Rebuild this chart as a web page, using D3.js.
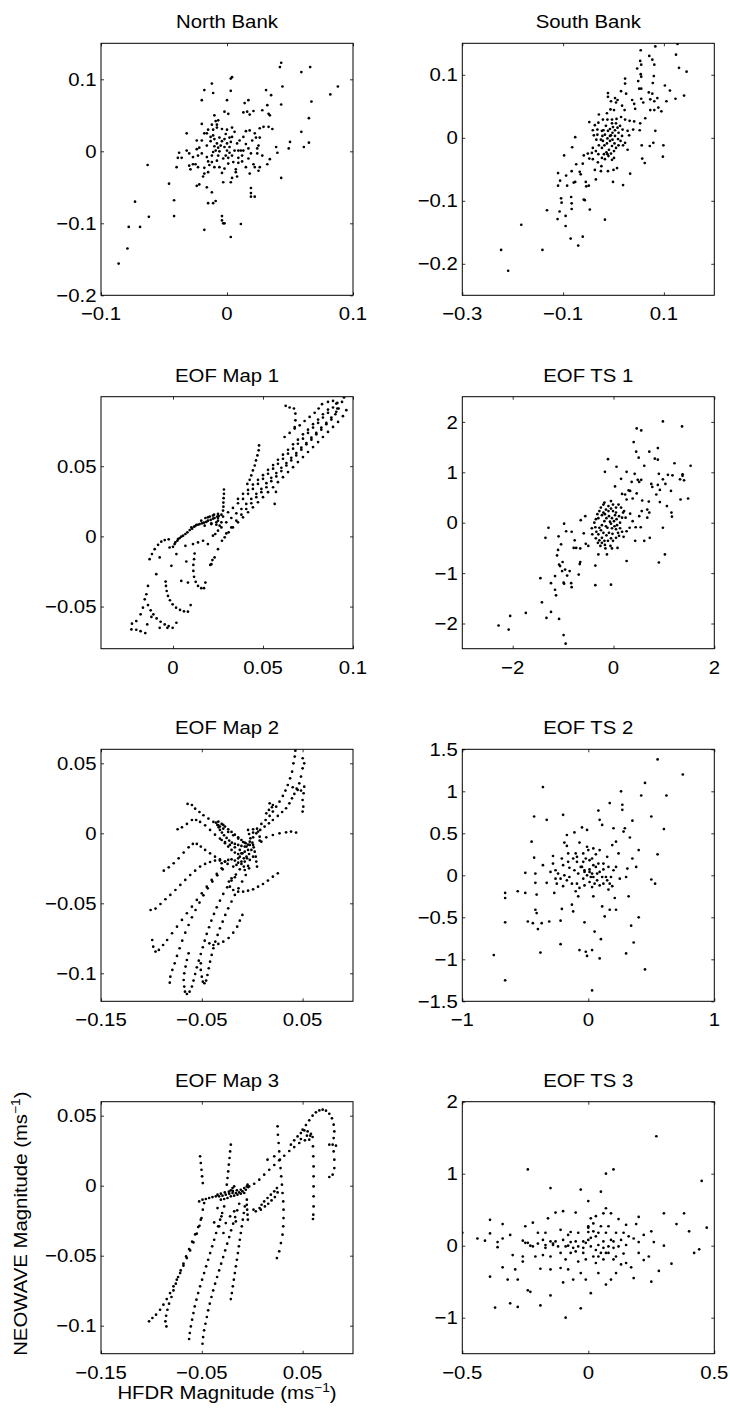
<!DOCTYPE html>
<html><head><meta charset="utf-8">
<script src="https://cdn.jsdelivr.net/npm/d3@7"></script>
<style>body{margin:0;background:#fff}svg{display:block}text{font-family:"Liberation Sans",Arial,Helvetica,sans-serif;fill:#000}</style>
</head><body><svg id="c" width="730" height="1413"></svg>
<script>
// ---------- DATA ----------
const titles = ["North Bank","South Bank","EOF Map 1","EOF TS 1","EOF Map 2","EOF TS 2","EOF Map 3","EOF TS 3"];

const northBank = [[-0.086,-0.156],[-0.079,-0.135],[-0.078,-0.105],[-0.069,-0.105],[-0.073,-0.070],[-0.062,-0.091],[-0.063,-0.019],[-0.046,-0.045],[-0.042,-0.068],[-0.042,-0.090],[-0.040,-0.022],[-0.039,-0.009],[-0.038,-0.002],[-0.036,-0.009],[-0.032,0.025],[-0.032,0.001],[-0.030,-0.020],[-0.029,-0.025],[-0.027,-0.018],[-0.025,-0.018],[-0.024,0.003],[-0.024,0.015],[-0.024,-0.048],[-0.022,-0.046],[-0.020,0.038],[-0.020,0.071],[-0.018,0.085],[-0.012,0.094],[-0.011,0.081],[-0.012,0.037],[-0.019,-0.035],[-0.018,-0.031],[-0.016,-0.050],[-0.012,-0.057],[-0.015,-0.072],[-0.011,-0.072],[-0.009,-0.069],[-0.018,-0.109],[-0.004,-0.090],[-0.004,-0.096],[-0.003,-0.100],[-0.002,-0.100],[0.003,-0.119],[0.011,-0.101],[0.003,0.101],[0.004,0.103],[0.003,0.084],[0.000,0.071],[-0.002,0.055],[0.001,0.052],[-0.010,0.050],[-0.009,0.042],[-0.008,0.037],[0.014,0.067],[0.017,0.071],[0.016,0.055],[0.013,0.054],[0.018,0.051],[0.021,0.056],[0.028,0.057],[0.031,0.085],[0.035,0.078],[0.032,0.064],[0.033,0.052],[0.034,0.050],[0.043,0.123],[0.042,0.117],[0.044,0.090],[0.043,0.065],[0.059,0.110],[0.066,0.117],[0.082,0.079],[0.088,0.090],[0.067,0.069],[0.065,0.046],[0.059,0.027],[0.065,0.012],[0.061,0.006],[0.050,0.013],[0.049,0.004],[0.039,0.006],[0.040,-0.002],[0.043,-0.037],[0.019,-0.051],[0.019,-0.058],[0.019,-0.063],[0.022,-0.063],[0.026,0.032],[0.029,0.034],[0.033,0.034],[0.036,0.031],[0.018,0.029],[0.015,0.028],[0.023,0.019],[0.026,0.019],[0.025,0.008],[0.024,0.004],[0.024,-0.003],[0.028,-0.006],[0.034,-0.011],[0.032,-0.018],[0.026,-0.022],[0.025,-0.027],[0.022,-0.022],[0.021,-0.018],[0.018,-0.031],[0.015,-0.022],[0.012,-0.014],[0.009,-0.016],[0.007,-0.025],[0.008,-0.035],[0.004,-0.037],[0.003,-0.043],[-0.003,-0.043],[-0.004,-0.030],[-0.002,-0.024],[-0.006,-0.022],[-0.008,-0.013],[-0.012,-0.015],[-0.015,-0.014],[-0.018,-0.023],[-0.015,-0.029],[-0.020,0.015],[-0.018,0.025],[-0.016,0.025],[-0.015,0.030],[-0.011,0.030],[-0.008,0.033],[-0.004,0.031],[0.000,0.030],[0.004,0.033],[0.006,0.027],[0.002,0.019],[-0.002,0.017],[-0.006,0.019],[-0.010,0.017],[-0.013,0.014],[-0.016,0.008],[-0.022,0.005],[-0.023,-0.006],[-0.020,-0.003],[-0.016,-0.008],[-0.012,-0.006],[-0.009,0.001],[-0.010,0.007],[-0.007,0.005],[-0.005,0.008],[-0.002,0.006],[0.000,0.001],[0.002,-0.002],[-0.001,-0.006],[-0.003,-0.010],[-0.007,-0.006],[0.001,-0.009],[0.004,-0.006],[0.006,0.001],[0.009,0.001],[0.011,0.001],[0.013,0.001],[0.008,0.011],[0.010,0.015],[0.013,0.020],[0.015,0.010],[0.017,0.004],[0.012,-0.006],[0.009,-0.009],[0.005,-0.015],[0.001,-0.017],[-0.010,-0.022],[-0.014,-0.019],[-0.008,0.011],[-0.004,0.014],[0.003,0.013],[-0.001,0.024],[-0.011,0.022],[-0.023,-0.022],[-0.027,-0.008],[-0.030,-0.003],[0.002,0.006],[-0.006,0.000],[-0.011,-0.001],[0.000,0.011],[0.017,-0.010],[0.019,-0.003],[0.020,0.015],[0.022,0.025],[0.004,0.020],[-0.007,0.043],[-0.013,0.020],[0.007,-0.029]];

const southBank = [[-0.223,-0.178],[-0.209,-0.211],[-0.183,-0.138],[-0.141,-0.178],[-0.132,-0.115],[-0.111,-0.129],[-0.107,-0.117],[-0.095,-0.140],[-0.085,-0.160],[-0.070,-0.171],[-0.061,-0.157],[-0.047,-0.114],[-0.017,-0.130],[-0.098,-0.028],[-0.082,-0.015],[-0.076,0.001],[-0.110,-0.056],[-0.110,-0.076],[-0.106,-0.068],[-0.094,-0.060],[-0.092,-0.076],[-0.104,-0.096],[-0.103,-0.103],[-0.095,-0.124],[-0.084,-0.094],[-0.083,-0.104],[-0.083,-0.113],[-0.079,-0.071],[-0.076,-0.070],[-0.083,-0.053],[-0.074,-0.042],[-0.067,-0.054],[-0.065,-0.058],[-0.061,-0.041],[-0.059,-0.098],[-0.057,-0.099],[-0.055,-0.070],[-0.054,-0.077],[-0.049,-0.076],[-0.059,-0.028],[-0.051,-0.025],[-0.048,-0.033],[-0.043,-0.024],[-0.041,-0.034],[-0.037,-0.051],[-0.035,-0.066],[-0.031,-0.039],[-0.025,-0.053],[-0.024,-0.045],[-0.011,-0.053],[-0.001,-0.070],[0.000,-0.051],[0.007,-0.048],[0.019,-0.075],[0.033,-0.057],[0.057,-0.033],[0.062,-0.040],[0.056,-0.012],[0.072,-0.013],[0.079,-0.008],[0.099,-0.012],[0.098,-0.030],[0.083,0.011],[0.127,0.149],[0.083,0.145],[0.054,0.139],[0.071,0.130],[0.077,0.124],[0.053,0.122],[0.055,0.116],[0.047,0.110],[0.081,0.116],[0.124,0.132],[0.130,0.111],[0.145,0.105],[0.054,0.101],[0.055,0.097],[0.049,0.090],[0.078,0.087],[0.080,0.098],[0.051,0.078],[0.055,0.078],[0.102,0.083],[0.112,0.075],[0.070,0.072],[0.077,0.070],[0.087,0.063],[0.073,0.061],[0.081,0.058],[0.105,0.058],[0.123,0.062],[0.140,0.067],[0.089,0.048],[0.081,0.044],[0.095,0.042],[0.073,0.044],[0.055,0.062],[0.059,0.056],[0.043,0.046],[0.041,0.054],[0.037,0.060],[0.025,0.070],[0.023,0.086],[0.015,0.074],[0.023,0.094],[0.003,0.063],[0.008,0.060],[-0.011,0.071],[-0.011,0.065],[-0.005,0.058],[0.005,0.056],[0.017,0.051],[0.022,0.044],[0.001,0.044],[-0.006,0.045],[-0.013,0.039],[-0.029,0.037],[-0.048,0.025],[-0.041,0.012],[-0.032,0.013],[-0.020,0.012],[-0.012,0.029],[-0.003,0.029],[0.006,0.030],[0.015,0.033],[0.023,0.029],[0.032,0.027],[0.041,0.026],[0.053,0.023],[0.052,0.012],[0.063,0.031],[0.039,0.013],[0.031,0.004],[0.028,0.011],[0.018,0.013],[0.023,-0.008],[0.028,-0.019],[0.019,-0.012],[-0.022,0.003],[-0.017,0.005],[-0.012,-0.001],[-0.007,0.003],[-0.002,0.008],[0.003,0.012],[0.008,0.016],[-0.001,0.017],[-0.007,0.014],[-0.015,0.019],[-0.021,-0.005],[-0.025,-0.003],[-0.029,-0.012],[-0.023,-0.016],[-0.018,-0.012],[-0.013,-0.009],[-0.007,-0.005],[-0.002,-0.003],[0.003,0.003],[0.009,-0.002],[0.002,-0.009],[-0.003,-0.013],[-0.009,-0.019],[-0.014,-0.023],[-0.019,-0.026],[-0.023,-0.032],[-0.017,-0.034],[-0.010,-0.029],[-0.005,-0.025],[0.001,-0.021],[0.005,-0.016],[0.010,-0.012],[0.014,-0.005],[0.017,0.003],[0.010,0.008],[0.013,0.019],[0.005,0.023],[-0.003,0.023],[-0.012,-0.026],[-0.003,-0.035],[0.001,-0.032],[-0.030,-0.026],[-0.035,-0.021],[-0.041,-0.016],[-0.034,-0.003],[-0.039,0.004],[-0.032,0.005],[-0.023,0.011],[-0.011,0.011],[-0.005,0.004],[-0.030,0.024],[-0.021,0.029],[-0.037,0.020]];

const eofMap1 = [[0.0213,-0.0198],[0.0231,-0.0150],[0.0250,-0.0091],[0.0272,-0.0031],[0.0296,0.0021],[0.0324,0.0064],[0.0352,0.0112],[0.0380,0.0155],[0.0407,0.0195],[0.0435,0.0236],[0.0463,0.0279],[0.0491,0.0315],[0.0519,0.0350],[0.0546,0.0393],[0.0574,0.0427],[0.0602,0.0465],[0.0630,0.0505],[0.0657,0.0541],[0.0685,0.0577],[0.0713,0.0617],[0.0741,0.0656],[0.0769,0.0689],[0.0796,0.0727],[0.0824,0.0760],[0.0852,0.0799],[0.0880,0.0832],[0.0902,0.0870],[0.0920,0.0911],[0.0939,0.0958],[0.0950,0.0990],
[0.0269,0.0064],[0.0296,0.0100],[0.0324,0.0131],[0.0352,0.0164],[0.0380,0.0195],[0.0407,0.0231],[0.0435,0.0267],[0.0463,0.0303],[0.0491,0.0338],[0.0519,0.0379],[0.0546,0.0417],[0.0574,0.0451],[0.0602,0.0489],[0.0630,0.0522],[0.0657,0.0560],[0.0685,0.0594],[0.0713,0.0632],[0.0741,0.0665],[0.0769,0.0703],[0.0796,0.0737],[0.0824,0.0775],[0.0852,0.0808],[0.0880,0.0846],[0.0907,0.0887],
[0.0250,0.0112],[0.0278,0.0141],[0.0306,0.0172],[0.0333,0.0203],[0.0361,0.0236],[0.0389,0.0267],[0.0417,0.0303],[0.0444,0.0338],[0.0472,0.0374],[0.0500,0.0410],[0.0528,0.0446],[0.0556,0.0482],[0.0583,0.0517],[0.0611,0.0553],[0.0639,0.0589],[0.0667,0.0625],[0.0694,0.0660],[0.0722,0.0696],[0.0750,0.0737],[0.0778,0.0775],[0.0806,0.0808],[0.0833,0.0846],[0.0861,0.0880],[0.0889,0.0918],[0.0913,0.0951],
[0.0361,0.0267],[0.0389,0.0303],[0.0417,0.0331],[0.0444,0.0369],[0.0472,0.0403],[0.0500,0.0436],[0.0528,0.0474],[0.0556,0.0508],[0.0583,0.0546],[0.0611,0.0582],[0.0639,0.0617],[0.0667,0.0656],[0.0694,0.0689],[0.0722,0.0727],[0.0750,0.0760],[0.0778,0.0799],[0.0806,0.0832],[0.0833,0.0870],[0.0861,0.0903],
[0.0287,-0.0007],[0.0309,0.0029],[0.0333,0.0064],[0.0361,0.0100],[0.0389,0.0136],[0.0417,0.0172],[0.0444,0.0207],[0.0472,0.0243],[0.0500,0.0279],[0.0528,0.0315],[0.0556,0.0350],[0.0583,0.0386],[0.0611,0.0422],[0.0639,0.0458],[0.0667,0.0493],[0.0694,0.0529],[0.0722,0.0565],[0.0750,0.0601],[0.0778,0.0636],[0.0806,0.0672],[0.0833,0.0708],[0.0861,0.0744],[0.0889,0.0780],[0.0917,0.0815],[0.0944,0.0856],[0.0963,0.0899],
[0.0620,0.0708],[0.0648,0.0737],[0.0676,0.0768],[0.0704,0.0791],[0.0731,0.0822],[0.0759,0.0851],[0.0787,0.0880],[0.0809,0.0911],[0.0828,0.0942],[0.0861,0.0958],[0.0889,0.0965],[0.0907,0.0946],[0.0913,0.0911],
[0.0626,0.0930],[0.0648,0.0918],[0.0672,0.0911],[0.0680,0.0875],[0.0680,0.0827],[0.0676,0.0779],
[0.0478,0.0648],[0.0476,0.0613],[0.0469,0.0577],[0.0461,0.0541],[0.0454,0.0505],[0.0444,0.0470],[0.0435,0.0434],[0.0426,0.0403],[0.0413,0.0374],
[0.0283,0.0334],[0.0283,0.0303],[0.0281,0.0272],[0.0280,0.0241],[0.0280,0.0212],[0.0278,0.0184],
[0.0572,0.0317],[0.0565,0.0231],
[0.0000,-0.0074],[0.0013,-0.0043],[0.0028,-0.0019],[0.0046,-0.0002],[0.0069,0.0017],[0.0093,0.0045],[0.0117,0.0069],[0.0139,0.0083],[0.0161,0.0093],[0.0185,0.0103],[0.0209,0.0117],[0.0231,0.0131],[0.0254,0.0145],[0.0102,0.0064],[0.0130,0.0083],[0.0157,0.0112],[0.0180,0.0131],[0.0204,0.0141],[0.0228,0.0155],[0.0250,0.0160],[0.0176,0.0076],[0.0213,0.0088],[0.0241,0.0100],
[0.0009,-0.0055],[0.0024,-0.0031],[0.0037,-0.0012],[0.0056,0.0005],[0.0080,0.0029],[0.0106,0.0055],[0.0124,0.0074],[0.0148,0.0088],[0.0172,0.0098],[0.0194,0.0112],[0.0222,0.0126],[0.0246,0.0141],[0.0269,0.0155],
[0.0194,0.0136],[0.0222,0.0148],[0.0250,0.0131],[0.0269,0.0100],[0.0241,0.0083],[0.0213,0.0093],
[-0.0130,-0.0162],[-0.0117,-0.0126],[-0.0102,-0.0091],[-0.0083,-0.0060],[-0.0065,-0.0038],[-0.0046,-0.0026],[-0.0024,-0.0021],
[-0.0139,-0.0353],[-0.0148,-0.0412],[-0.0157,-0.0448],[-0.0167,-0.0508],[-0.0180,-0.0555],[-0.0204,-0.0603],[-0.0228,-0.0622],[-0.0231,-0.0663],[-0.0204,-0.0665],[-0.0180,-0.0675],[-0.0154,-0.0689],
[-0.0041,-0.0322],[-0.0039,-0.0353],[-0.0035,-0.0389],[-0.0028,-0.0424],[-0.0017,-0.0455],[-0.0002,-0.0484],[0.0017,-0.0508],[0.0039,-0.0524],[0.0061,-0.0534],[0.0083,-0.0536],[0.0098,-0.0489],
[-0.0139,-0.0489],[-0.0124,-0.0527],[-0.0109,-0.0555],[-0.0091,-0.0584],[-0.0069,-0.0608],[-0.0046,-0.0627],[-0.0024,-0.0639],[-0.0002,-0.0651],[0.0019,-0.0615],
[0.0120,-0.0122],[0.0117,-0.0162],[0.0113,-0.0203],[0.0113,-0.0246],[0.0117,-0.0288],[0.0126,-0.0324],[0.0139,-0.0353],[0.0157,-0.0369],[0.0172,-0.0369],[0.0180,-0.0329],
[0.0207,-0.0203],[0.0219,-0.0169],
[-0.0093,-0.0269],[-0.0074,-0.0150],[-0.0019,-0.0079],[-0.0009,-0.0210],[0.0019,-0.0126],[0.0046,-0.0317],[0.0074,-0.0179],[0.0083,-0.0329],[0.0111,-0.0055],[0.0139,-0.0043],[0.0167,-0.0031],[0.0194,-0.0055],[0.0222,0.0005],[0.0069,-0.0067],[-0.0031,-0.0651],[-0.0074,-0.0651],[-0.0120,-0.0574],[-0.0143,-0.0627],[0.0235,0.0017],[0.0250,0.0041],[0.0259,0.0076]];

const eofTS1 = [[-2.28,-2.04],[-2.08,-2.12],[-2.05,-1.85],[-1.74,-1.79],[-1.45,-1.10],[-1.42,-1.58],[-1.33,-1.89],[-1.24,-1.77],[-1.24,-1.20],[-1.16,-1.06],[-1.16,-1.33],[-1.14,-1.44],[-1.08,-1.91],[-0.99,-2.23],[-0.95,-2.40],[-1.35,-0.30],[-1.29,-0.10],[-1.09,-0.27],[-0.98,-0.02],[-1.10,-0.54],[-1.12,-0.65],[-1.04,-0.43],[-1.08,-0.83],[-1.06,-0.86],[-1.01,-0.78],[-1.02,-0.96],[-0.92,-1.05],[-0.96,-0.93],[-0.87,-0.96],[-0.99,-1.19],[-0.98,-1.21],[-0.84,-1.20],[-0.83,-1.28],[-0.94,-0.17],[-0.83,-0.18],[-0.77,-0.35],[-0.79,-0.50],[-0.74,-0.50],[-0.69,-1.03],[-0.65,0.05],[-0.56,0.13],[-0.66,-0.51],[-0.59,-0.21],[-0.55,-0.42],[-0.50,-0.46],[-0.66,-0.78],[-0.67,-0.82],[-0.36,-1.24],[-0.36,-0.85],[-0.05,-1.23],[0.26,-0.76],[0.43,-0.36],[0.54,-0.09],[0.44,-0.09],[0.61,-0.36],[0.72,-0.30],[0.67,0.10],[0.90,-0.79],[1.02,-0.63],[0.98,-0.10],[1.15,0.20],[1.16,0.12],[1.33,0.46],[1.48,0.48],[1.37,0.96],[1.40,0.84],[1.53,1.13],[1.36,1.91],[0.98,2.01],[0.46,1.87],[0.55,1.83],[0.40,1.60],[0.45,1.41],[0.50,1.29],[0.71,1.41],[0.88,1.48],[0.82,1.27],[0.88,1.25],[0.61,1.13],[1.21,1.18],[0.90,0.97],[1.08,0.95],[1.17,0.94],[0.98,0.86],[1.03,0.77],[0.75,0.77],[0.77,0.71],[0.88,0.75],[0.92,0.65],[0.85,0.56],[0.92,0.41],[1.06,0.33],[1.14,0.63],[1.32,0.86],[1.37,0.93],[0.70,0.42],[0.55,0.85],[0.48,0.85],[0.51,0.81],[0.42,0.97],[0.26,1.01],[0.15,0.87],[0.03,0.72],[-0.11,1.26],[0.06,1.11],[-0.17,1.01],[0.36,0.81],[0.33,0.63],[0.30,0.64],[0.23,0.56],[0.17,0.57],[0.38,0.48],[0.46,0.58],[0.26,0.46],[0.57,0.44],[0.71,0.20],[0.67,0.26],[0.51,0.13],[0.56,0.23],[0.33,0.18],[0.21,0.23],[0.24,0.10],[0.38,0.03],[0.32,-0.10],[0.26,-0.17],[0.20,-0.28],[0.08,-0.50],[-0.03,-0.51],[-0.13,-0.63],[-0.26,-0.46],[-0.30,-0.63],[-0.16,-0.51],[-0.06,-0.46],[-0.38,0.00],[-0.35,0.07],[-0.32,0.17],[-0.28,0.23],[-0.25,0.30],[-0.20,0.36],[-0.15,0.26],[-0.10,0.33],[-0.05,0.43],[-0.01,0.36],[0.05,0.30],[0.10,0.36],[0.15,0.30],[0.19,0.20],[0.17,0.10],[0.11,0.13],[0.06,0.07],[0.01,0.03],[-0.03,0.09],[-0.09,0.13],[-0.14,0.09],[-0.18,0.03],[-0.23,-0.05],[-0.28,-0.10],[-0.34,-0.18],[-0.36,-0.09],[-0.30,-0.23],[-0.23,-0.30],[-0.18,-0.36],[-0.14,-0.25],[-0.09,-0.20],[-0.03,-0.11],[0.02,-0.07],[0.07,-0.05],[0.13,-0.11],[0.17,-0.18],[0.11,-0.26],[0.05,-0.30],[-0.01,-0.36],[-0.05,-0.31],[-0.11,-0.36],[-0.17,-0.44],[-0.23,-0.40],[-0.28,-0.35],[-0.20,-0.20],[-0.12,-0.10],[-0.05,-0.02],[-0.01,0.23],[-0.10,0.23],[-0.17,0.17],[-0.23,0.15],[-0.30,0.09],[0.05,-0.13],[0.09,-0.20],[-0.02,-0.22],[-0.31,-0.40],[-0.42,-0.23],[-0.43,-0.11],[-0.15,-0.07],[-0.07,0.02],[0.03,0.15],[0.13,0.00],[0.05,0.20],[-0.05,0.28],[-0.20,0.20],[-0.25,-0.15],[-0.35,-0.31],[-0.18,0.40]];

const eofMap2 = [[0.0501,0.0536],[0.0516,0.0500],[0.0500,0.0464],[0.0484,0.0405],[0.0467,0.0357],[0.0451,0.0310],[0.0418,0.0281],[0.0395,0.0250],[0.0369,0.0214],[0.0336,0.0179],[0.0297,0.0152],[0.0254,0.0124],[0.0205,0.0095],[0.0166,0.0071],[0.0123,0.0048],[0.0080,0.0024],[0.0041,0.0000],[0.0009,-0.0029],[-0.0024,-0.0060],[-0.0057,-0.0095],
[0.0428,0.0590],[0.0422,0.0548],[0.0409,0.0500],[0.0396,0.0440],[0.0376,0.0393],[0.0353,0.0345],[0.0330,0.0305],[0.0304,0.0267],[0.0271,0.0226],[0.0238,0.0190],[0.0205,0.0155],[0.0173,0.0124],[0.0133,0.0095],[0.0091,0.0067],[0.0048,0.0033],[0.0009,0.0005],
[0.0516,0.0333],[0.0510,0.0286],[0.0500,0.0238],[0.0507,0.0190],[0.0500,0.0155],[0.0402,0.0329],[0.0441,0.0319],[0.0484,0.0305],
[0.0173,0.0214],[0.0196,0.0186],[0.0166,0.0167],[0.0140,0.0143],[0.0205,0.0202],
[0.0009,-0.0083],[0.0074,-0.0052],[0.0140,-0.0029],[0.0205,-0.0012],[0.0271,0.0000],[0.0336,0.0007],[0.0385,0.0012],[0.0435,0.0005],
[0.0254,-0.0286],[0.0205,-0.0310],[0.0156,-0.0338],[0.0107,-0.0362],[0.0058,-0.0381],[0.0009,-0.0400],[-0.0041,-0.0410],[-0.0090,-0.0417],[-0.0139,-0.0417],[-0.0188,-0.0405],[-0.0221,-0.0381],[-0.0231,-0.0345],[-0.0205,-0.0321],[-0.0172,-0.0314],
[-0.0097,-0.0583],[-0.0123,-0.0624],[-0.0149,-0.0667],[-0.0188,-0.0710],[-0.0234,-0.0748],[-0.0287,-0.0774],[-0.0336,-0.0790],[-0.0385,-0.0798],[-0.0425,-0.0786],
[-0.0641,0.0210],[-0.0598,0.0202],[-0.0566,0.0176],[-0.0523,0.0152],[-0.0484,0.0129],[-0.0434,0.0105],[-0.0385,0.0081],[-0.0336,0.0057],[-0.0287,0.0033],[-0.0238,0.0010],[-0.0188,-0.0014],[-0.0139,-0.0038],[-0.0090,-0.0062],
[-0.0740,0.0029],[-0.0697,0.0043],[-0.0648,0.0067],[-0.0598,0.0095],[-0.0556,0.0095],[-0.0517,0.0081],[-0.0467,0.0057],[-0.0418,0.0024],[-0.0369,-0.0010],[-0.0320,-0.0038],[-0.0270,-0.0062],[-0.0221,-0.0083],[-0.0172,-0.0100],[-0.0123,-0.0119],
[-0.0877,-0.0267],[-0.0828,-0.0243],[-0.0779,-0.0214],[-0.0730,-0.0179],[-0.0680,-0.0138],[-0.0631,-0.0100],[-0.0589,-0.0076],[-0.0549,-0.0076],[-0.0510,-0.0095],[-0.0467,-0.0119],[-0.0418,-0.0143],[-0.0369,-0.0167],[-0.0320,-0.0186],[-0.0270,-0.0202],
[-0.1008,-0.0548],[-0.0959,-0.0538],[-0.0910,-0.0505],[-0.0861,-0.0471],[-0.0812,-0.0440],[-0.0762,-0.0405],[-0.0713,-0.0369],[-0.0664,-0.0333],[-0.0615,-0.0298],[-0.0566,-0.0267],[-0.0517,-0.0238],[-0.0467,-0.0219],[-0.0418,-0.0205],[-0.0369,-0.0195],[-0.0320,-0.0195],
[-0.0992,-0.0762],[-0.0982,-0.0810],[-0.0959,-0.0845],[-0.0926,-0.0833],[-0.0884,-0.0798],[-0.0844,-0.0762],[-0.0795,-0.0714],[-0.0746,-0.0667],[-0.0697,-0.0619],[-0.0648,-0.0571],[-0.0598,-0.0524],[-0.0549,-0.0476],[-0.0500,-0.0429],[-0.0451,-0.0381],[-0.0402,-0.0333],[-0.0352,-0.0290],[-0.0303,-0.0250],
[-0.0818,-0.1067],[-0.0812,-0.1024],[-0.0792,-0.0976],[-0.0769,-0.0929],[-0.0746,-0.0876],[-0.0720,-0.0821],[-0.0694,-0.0767],[-0.0664,-0.0710],[-0.0631,-0.0655],[-0.0598,-0.0600],[-0.0562,-0.0548],[-0.0523,-0.0495],[-0.0484,-0.0443],[-0.0441,-0.0393],[-0.0395,-0.0345],[-0.0346,-0.0300],[-0.0293,-0.0257],[-0.0244,-0.0219],
[-0.0674,-0.1095],[-0.0667,-0.1131],[-0.0648,-0.1148],[-0.0621,-0.1131],[-0.0598,-0.1095],[-0.0582,-0.1052],[-0.0566,-0.1005],[-0.0549,-0.0957],[-0.0530,-0.0910],[-0.0510,-0.0862],[-0.0490,-0.0814],[-0.0471,-0.0767],[-0.0451,-0.0719],[-0.0428,-0.0671],[-0.0405,-0.0624],[-0.0379,-0.0576],[-0.0352,-0.0529],[-0.0320,-0.0481],[-0.0287,-0.0433],[-0.0248,-0.0386],[-0.0205,-0.0338],[-0.0162,-0.0295],[-0.0123,-0.0257],
[-0.0680,-0.1048],[-0.0674,-0.1000],[-0.0661,-0.0952],[-0.0648,-0.0905],[-0.0631,-0.0857],
[-0.0500,-0.1024],[-0.0490,-0.1060],[-0.0474,-0.1071],[-0.0457,-0.1052],[-0.0444,-0.1012],[-0.0431,-0.0964],[-0.0418,-0.0917],[-0.0402,-0.0869],[-0.0385,-0.0821],[-0.0366,-0.0774],[-0.0343,-0.0726],[-0.0320,-0.0679],[-0.0293,-0.0631],[-0.0267,-0.0583],[-0.0238,-0.0536],[-0.0205,-0.0488],[-0.0172,-0.0440],[-0.0136,-0.0393],[-0.0100,-0.0345],[-0.0064,-0.0298],[-0.0031,-0.0250],[-0.0510,-0.0976],[-0.0510,-0.0929],
[-0.0359,0.0076],[-0.0346,0.0060],[-0.0333,0.0043],[-0.0320,0.0024],[-0.0300,0.0005],[-0.0280,-0.0014],[-0.0254,-0.0033],[-0.0228,-0.0052],[-0.0202,-0.0067],[-0.0172,-0.0076],[-0.0139,-0.0083],[-0.0107,-0.0090],[-0.0074,-0.0095],[-0.0320,0.0048],[-0.0287,0.0060],
[-0.0336,0.0083],[-0.0303,0.0067],[-0.0270,0.0048],[-0.0238,0.0029],[-0.0205,0.0010],[-0.0172,-0.0010],[-0.0139,-0.0029],[-0.0107,-0.0048],[-0.0074,-0.0067],[-0.0041,-0.0081],
[-0.0303,-0.0048],[-0.0270,-0.0071],[-0.0238,-0.0095],[-0.0205,-0.0119],[-0.0172,-0.0138],[-0.0139,-0.0148],[-0.0107,-0.0143],[-0.0074,-0.0131],[-0.0041,-0.0119],
[-0.0303,-0.0214],[-0.0270,-0.0202],[-0.0238,-0.0190],[-0.0205,-0.0186],[-0.0172,-0.0195],[-0.0139,-0.0210],[-0.0107,-0.0219],[-0.0074,-0.0202],[-0.0051,-0.0179],[-0.0031,-0.0148],[-0.0008,-0.0119],[-0.0024,-0.0083],[-0.0064,-0.0071],
[-0.0123,-0.0167],[-0.0096,-0.0143],[-0.0083,-0.0179],[-0.0057,-0.0167],[-0.0107,-0.0202],[-0.0156,-0.0226],[-0.0188,-0.0238],[-0.0139,-0.0179],[-0.0024,-0.0190],[0.0009,-0.0167],[-0.0041,-0.0233],
[-0.0041,0.0024],[-0.0031,-0.0005],[-0.0018,-0.0036],[0.0002,-0.0067],[0.0015,-0.0100],[0.0025,-0.0131],[0.0035,-0.0167],[0.0041,-0.0202],[0.0048,-0.0238],[-0.0083,-0.0238],[-0.0074,-0.0262],[0.0009,0.0029],[0.0058,0.0012],[0.0074,-0.0024],[0.0091,-0.0060]];

const eofTS2 = [[-0.75,-0.95],[-0.66,-1.25],[-0.66,-0.56],[-0.66,-0.21],[-0.66,-0.27],[-0.56,-0.19],[-0.50,-0.21],[-0.50,0.03],[-0.45,0.40],[-0.43,0.21],[-0.42,0.02],[-0.42,-0.09],[-0.41,-0.23],[-0.48,-0.55],[-0.44,-0.57],[-0.42,-0.41],[-0.41,-0.45],[-0.40,-0.64],[-0.38,-0.92],[-0.37,-0.57],[-0.36,0.12],[-0.36,1.05],[-0.43,0.70],[-0.33,0.66],[-0.33,-0.09],[-0.31,-0.55],[-0.30,0.04],[-0.28,0.23],[-0.28,0.14],[-0.27,-0.21],[-0.26,0.06],[-0.25,-0.10],[-0.24,0.02],[-0.22,-0.82],[-0.21,-0.40],[-0.22,-0.54],[-0.21,0.20],[-0.20,0.12],[-0.19,0.39],[-0.17,0.35],[-0.20,0.72],[-0.17,0.48],[-0.16,0.26],[-0.15,0.09],[-0.15,-0.02],[-0.13,-0.35],[-0.12,-0.43],[-0.11,0.51],[-0.10,0.26],[-0.09,0.16],[-0.09,-0.10],[-0.08,-0.25],[-0.07,-0.89],[-0.07,0.39],[-0.06,0.10],[-0.05,0.57],[-0.04,-0.04],[-0.03,-0.56],[-0.03,0.06],[-0.02,-0.91],[-0.01,-0.96],[-0.01,0.54],[0.00,0.30],[0.01,0.18],[0.01,0.04],[0.02,-0.02],[0.03,-1.37],[0.03,-0.14],[0.03,-0.89],[0.04,-0.25],[0.05,-0.67],[0.06,0.10],[0.07,0.02],[0.08,0.77],[0.09,0.66],[0.09,-0.99],[0.10,-0.76],[0.11,-0.37],[0.11,0.60],[0.12,0.14],[0.12,-0.10],[0.13,-0.49],[0.14,-0.02],[0.15,0.22],[0.16,-0.17],[0.17,0.86],[0.17,-0.41],[0.18,-0.02],[0.19,0.36],[0.20,0.56],[0.21,-0.27],[0.22,0.40],[0.22,-0.41],[0.24,0.26],[0.25,-0.04],[0.26,1.00],[0.27,0.84],[0.27,0.78],[0.28,0.52],[0.29,0.56],[0.30,-0.02],[0.30,-0.93],[0.31,0.08],
[-0.11,0.06],[-0.08,0.02],[-0.05,0.10],[-0.03,0.04],[-0.01,0.00],[0.01,0.07],[0.03,0.02],[0.04,-0.02],[0.07,-0.06],[0.09,0.04],[0.11,-0.02],[0.12,0.07],[0.15,-0.06],[0.17,-0.10],[0.19,-0.13],[0.09,-0.12],[0.05,-0.10],[0.01,-0.08],[-0.03,-0.12],[-0.07,-0.15],[-0.10,-0.19],[-0.13,-0.10],[-0.17,-0.06],[-0.19,0.00],[-0.16,0.16],[-0.12,0.20],[-0.09,0.22],[-0.04,0.26],[-0.02,0.20],[0.03,0.20],[0.06,0.25],[0.09,0.30],[0.04,0.32],[-0.01,0.34],[-0.04,0.16],[0.04,0.12],[0.08,0.14],[0.16,0.10],[0.20,0.06],[0.22,0.10],[-0.20,-0.13],[-0.22,-0.04],[-0.26,-0.04],
[0.75,1.20],[0.55,1.38],[0.62,0.95],[0.50,0.70],[0.45,1.10],[0.42,0.95],[0.35,0.65],[0.40,0.30],[0.55,0.25],[0.50,-0.05],[0.53,-0.10],[0.45,-1.12],[0.60,0.55],[0.33,0.45],[0.35,0.20],[0.38,0.10],[0.32,-0.25],[0.40,-0.50],[0.34,-0.60],[0.36,-0.80]];

const eofMap3 = [[0.0500,0.0400],[0.0533,0.0433],[0.0566,0.0467],[0.0599,0.0500],[0.0632,0.0524],[0.0666,0.0538],[0.0699,0.0543],[0.0732,0.0536],[0.0765,0.0514],[0.0791,0.0481],[0.0808,0.0436],[0.0815,0.0388],[0.0808,0.0340],[0.0798,0.0293],[0.0808,0.0245],[0.0815,0.0186],[0.0815,0.0126],[0.0798,0.0079],[0.0765,0.0062],[0.0765,0.0293],[0.0831,0.0286],
[0.0384,0.0293],[0.0417,0.0324],[0.0450,0.0352],[0.0483,0.0376],[0.0517,0.0395],[0.0550,0.0388],[0.0583,0.0371],[0.0599,0.0348],[0.0566,0.0329],[0.0523,0.0324],[0.0483,0.0333],[0.0543,0.0357],[0.0576,0.0357],
[0.0603,0.0281],[0.0606,0.0210],[0.0609,0.0138],[0.0609,0.0067],[0.0609,-0.0005],[0.0609,-0.0076],[0.0609,-0.0148],[0.0606,-0.0207],[0.0603,-0.0238],
[0.0252,0.0424],[0.0255,0.0364],[0.0262,0.0305],[0.0268,0.0245],[0.0275,0.0186],[0.0281,0.0126],[0.0288,0.0067],[0.0295,0.0007],[0.0301,-0.0052],[0.0308,-0.0112],[0.0311,-0.0171],[0.0311,-0.0231],[0.0308,-0.0290],[0.0301,-0.0350],[0.0285,-0.0410],[0.0268,-0.0469],[0.0245,-0.0517],
[-0.0030,-0.0005],[0.0020,0.0014],[0.0070,0.0043],[0.0119,0.0079],[0.0169,0.0114],[0.0219,0.0148],[0.0268,0.0181],[0.0318,0.0214],[0.0368,0.0248],[0.0417,0.0276],[0.0467,0.0305],[0.0152,0.0186],[0.0219,0.0210],
[0.0245,-0.0017],[0.0219,-0.0040],[0.0185,-0.0064],[0.0152,-0.0088],[0.0119,-0.0112],[0.0093,-0.0136],[0.0073,-0.0160],[0.0252,-0.0048],[0.0225,-0.0081],[0.0192,-0.0105],[0.0159,-0.0129],[0.0126,-0.0148],[0.0086,-0.0171],[0.0036,-0.0183],[0.0013,-0.0171],
[-0.0526,-0.0112],[-0.0493,-0.0100],[-0.0460,-0.0095],[-0.0427,-0.0088],[-0.0394,-0.0081],[-0.0361,-0.0076],[-0.0328,-0.0076],[-0.0295,-0.0071],[-0.0262,-0.0064],[-0.0228,-0.0057],[-0.0195,-0.0052],[-0.0162,-0.0052],[-0.0129,-0.0048],[-0.0096,-0.0040],[-0.0063,-0.0029],[-0.0040,-0.0010],
[-0.0311,-0.0100],[-0.0278,-0.0095],[-0.0245,-0.0088],[-0.0212,-0.0076],[-0.0179,-0.0071],[-0.0146,-0.0064],[-0.0113,-0.0057],[-0.0079,-0.0052],[-0.0212,-0.0033],[-0.0195,-0.0017],[-0.0179,-0.0005],[-0.0046,0.0007],
[-0.0344,-0.0064],[-0.0311,-0.0057],[-0.0272,-0.0048],[-0.0232,-0.0043],[-0.0192,-0.0038],[-0.0152,-0.0033],[-0.0113,-0.0029],[-0.0079,-0.0017],[-0.0053,-0.0005],
[-0.0212,0.0293],[-0.0219,0.0245],[-0.0225,0.0198],[-0.0232,0.0150],[-0.0238,0.0102],[-0.0245,0.0055],[-0.0252,0.0007],
[-0.0517,0.0210],[-0.0510,0.0162],[-0.0503,0.0114],[-0.0497,0.0067],[-0.0490,0.0019],
[-0.1023,-0.0969],[-0.0990,-0.0945],[-0.0954,-0.0921],[-0.0914,-0.0886],[-0.0881,-0.0850],[-0.0848,-0.0810],[-0.0815,-0.0767],[-0.0781,-0.0719],[-0.0748,-0.0671],[-0.0715,-0.0624],[-0.0682,-0.0571],[-0.0649,-0.0517],[-0.0616,-0.0462],[-0.0583,-0.0405],[-0.0550,-0.0343],[-0.0523,-0.0286],[-0.0503,-0.0231],[-0.0490,-0.0171],[-0.0477,-0.0124],
[-0.0851,-0.1005],[-0.0861,-0.0969],[-0.0854,-0.0929],[-0.0841,-0.0886],[-0.0825,-0.0843],[-0.0801,-0.0795],[-0.0781,-0.0748],[-0.0758,-0.0700],[-0.0735,-0.0652],[-0.0709,-0.0605],[-0.0682,-0.0557],[-0.0656,-0.0505],[-0.0626,-0.0452],[-0.0596,-0.0400],[-0.0566,-0.0348],[-0.0536,-0.0295],[-0.0510,-0.0243],
[-0.0626,-0.1095],[-0.0619,-0.1052],[-0.0609,-0.1005],[-0.0596,-0.0957],[-0.0583,-0.0910],[-0.0570,-0.0862],[-0.0553,-0.0814],[-0.0536,-0.0767],[-0.0517,-0.0719],[-0.0497,-0.0671],[-0.0477,-0.0624],[-0.0457,-0.0576],[-0.0437,-0.0529],[-0.0417,-0.0481],[-0.0397,-0.0433],[-0.0377,-0.0386],[-0.0358,-0.0338],[-0.0338,-0.0290],[-0.0318,-0.0243],[-0.0298,-0.0195],[-0.0278,-0.0148],
[-0.0493,-0.1129],[-0.0487,-0.1081],[-0.0477,-0.1033],[-0.0464,-0.0986],[-0.0450,-0.0938],[-0.0437,-0.0890],[-0.0421,-0.0843],[-0.0404,-0.0795],[-0.0387,-0.0748],[-0.0368,-0.0700],[-0.0348,-0.0652],[-0.0328,-0.0605],[-0.0308,-0.0557],[-0.0288,-0.0510],[-0.0268,-0.0462],[-0.0248,-0.0414],[-0.0228,-0.0367],[-0.0209,-0.0319],[-0.0189,-0.0271],[-0.0169,-0.0224],[-0.0149,-0.0176],[-0.0129,-0.0129],
[-0.0212,-0.0810],[-0.0202,-0.0767],[-0.0192,-0.0719],[-0.0182,-0.0671],[-0.0172,-0.0624],[-0.0162,-0.0576],[-0.0152,-0.0529],[-0.0142,-0.0481],[-0.0132,-0.0433],[-0.0123,-0.0386],[-0.0113,-0.0338],[-0.0103,-0.0290],[-0.0093,-0.0243],[-0.0083,-0.0195],[-0.0073,-0.0148],
[-0.0053,-0.0100],[-0.0053,-0.0136],[-0.0050,-0.0171],[-0.0046,-0.0207],[-0.0043,-0.0243],
[-0.0344,-0.0160],[-0.0305,-0.0219],[-0.0262,-0.0267],[-0.0219,-0.0219],[-0.0179,-0.0183],[-0.0162,-0.0255],[-0.0328,-0.0290],[-0.0285,-0.0338],[-0.0377,-0.0262]];

const eofTS3 = [[-0.50,0.18],[-0.44,0.10],[-0.41,0.07],[-0.39,0.36],[-0.39,0.17],[-0.39,-0.43],[-0.37,-0.86],[-0.36,-0.02],[-0.36,0.05],[-0.34,0.10],[-0.34,0.30],[-0.34,-0.30],[-0.32,-0.47],[-0.31,-0.80],[-0.31,0.15],[-0.30,-0.13],[-0.29,-0.33],[-0.28,-0.85],[-0.28,-0.47],[-0.26,0.07],[-0.26,-0.15],[-0.26,-0.22],[-0.25,0.04],[-0.24,1.06],[-0.25,0.27],[-0.24,-0.62],[-0.24,0.04],[-0.23,0.00],[-0.23,-0.64],[-0.22,0.32],[-0.21,-0.15],[-0.20,0.18],[-0.19,-0.32],[-0.19,-0.83],[-0.18,-0.13],[-0.17,-0.03],[-0.17,0.01],[-0.17,0.18],[-0.16,0.38],[-0.15,-0.33],[-0.15,0.80],[-0.15,-0.15],[-0.15,-0.69],[-0.14,0.01],[-0.14,0.03],[-0.13,0.46],[-0.13,0.06],[-0.11,-0.10],[-0.11,-0.31],[-0.11,0.22],[-0.10,-0.51],[-0.10,0.48],[-0.09,-1.00],[-0.09,-0.19],[-0.08,0.15],[-0.08,0.00],[-0.08,-0.33],[-0.07,-0.10],[-0.07,0.19],[-0.06,-0.03],[-0.06,-0.47],[-0.05,0.46],[-0.05,0.06],[-0.04,-0.22],[-0.04,0.18],[-0.03,0.78],[-0.03,-0.38],[-0.03,-0.87],[-0.02,0.06],[-0.02,-0.03],[-0.01,-0.19],[-0.01,-0.47],[0.00,0.62],[0.00,0.27],[0.00,0.19],[0.00,0.08],[0.01,-0.66],[0.01,0.38],[0.01,-0.01],[0.02,-0.15],[0.02,0.31],[0.03,0.13],[0.03,-0.24],[0.03,0.41],[0.04,0.01],[0.04,-0.38],[0.05,0.27],[0.05,0.75],[0.05,-0.10],[0.06,0.45],[0.06,0.06],[0.06,-0.19],[0.07,1.00],[0.07,-0.54],[0.07,0.18],[0.07,0.52],[0.08,-0.01],[0.08,0.27],[0.08,-0.10],[0.09,-0.47],[0.09,0.45],[0.10,0.06],[0.10,1.06],[0.10,-0.19],[0.11,0.18],[0.11,-0.38],[0.12,-0.01],[0.12,0.37],[0.13,0.08],[0.13,-0.26],[0.14,0.18],[0.14,-0.11],[0.15,0.01],[0.15,0.29],[0.15,-0.24],[0.16,0.13],
[-0.10,0.08],[-0.09,-0.01],[-0.07,0.05],[-0.05,-0.08],[-0.04,-0.01],[-0.02,-0.10],[-0.01,0.04],[0.01,0.11],[0.03,-0.06],[0.04,-0.15],[0.06,-0.03],[0.07,-0.10],[0.09,0.08],[0.10,-0.03],[0.11,-0.15],[0.00,0.25],[0.02,0.20],[0.04,0.18],[-0.12,-0.01],[-0.15,0.06],[-0.18,0.08],[-0.20,0.03],[-0.22,-0.01],
[0.27,1.52],[0.45,0.90],[0.42,-0.10],[0.44,-0.05],[0.40,0.20],[0.35,0.30],[0.30,0.45],[0.25,0.20],[0.20,0.05],[0.22,-0.20],[0.28,-0.35],[0.33,-0.25],[0.18,-0.45],[0.25,-0.50],[0.30,0.00],[0.38,0.45],[0.47,0.25],[0.20,0.40],[0.18,0.10],[0.20,-0.10],[0.22,0.15],[0.17,-0.30],[0.24,-0.15],[0.19,0.30],[0.26,0.05]];

// tick values
const nbXTicks = [-0.1, 0, 0.1], nbYTicks = [-0.2, -0.1, 0, 0.1];
const sbXTicks = [-0.3, -0.1, 0.1], sbYTicks = [-0.2, -0.1, 0, 0.1];
const m1XTicks = [0, 0.05, 0.1], m1YTicks = [-0.05, 0, 0.05];
const t1XTicks = [-2, 0, 2], t1YTicks = [-2, -1, 0, 1, 2];
const mXTicks = [-0.15, -0.05, 0.05], mYTicks = [-0.1, -0.05, 0, 0.05];
const t2XTicks = [-1, 0, 1], t2YTicks = [-1.5, -1, -0.5, 0, 0.5, 1, 1.5];
const t3XTicks = [-0.5, 0, 0.5], t3YTicks = [-1, 0, 1, 2];

// ---------- LAYOUT ----------
const colX = [101, 462.3], rowY = [43.3, 396.7, 749.3, 1101.7], W = 252, H = 252;
const panels = [
  {t:0, d:northBank, c:0, r:0, xd:[-0.1,0.1],  yd:[-0.2,0.15],   xt:nbXTicks, yt:nbYTicks},
  {t:1, d:southBank, c:1, r:0, xd:[-0.3,0.2],  yd:[-0.25,0.15],  xt:sbXTicks, yt:sbYTicks},
  {t:2, d:eofMap1,   c:0, r:1, xd:[-0.04,0.1], yd:[-0.08,0.0995],xt:m1XTicks, yt:m1YTicks},
  {t:3, d:eofTS1,    c:1, r:1, xd:[-3,2],      yd:[-2.5,2.5],    xt:t1XTicks, yt:t1YTicks},
  {t:4, d:eofMap2,   c:0, r:2, xd:[-0.15,0.1], yd:[-0.12,0.06],  xt:mXTicks,  yt:mYTicks},
  {t:5, d:eofTS2,    c:1, r:2, xd:[-1,1],      yd:[-1.5,1.5],    xt:t2XTicks, yt:t2YTicks},
  {t:6, d:eofMap3,   c:0, r:3, xd:[-0.15,0.1], yd:[-0.12,0.06],  xt:mXTicks,  yt:mYTicks},
  {t:7, d:eofTS3,    c:1, r:3, xd:[-0.5,0.5],  yd:[-1.5,2],      xt:t3XTicks, yt:t3YTicks}
];

const FS = 18.5, SX = 1.1;
const svg = d3.select("#c");
const fmt = v => (v < 0 ? "\u2212" : "") + String(Math.abs(v));

function label(parent, x, y, str, anchor, rot) {
  const g = parent.append("g").attr("transform", `translate(${x},${y})` + (rot ? ` rotate(${rot})` : "") + ` scale(${SX},1)`);
  return g.append("text").attr("text-anchor", anchor).attr("font-size", FS).text(str);
}

panels.forEach(p => {
  const x0 = colX[p.c], y0 = rowY[p.r];
  const xs = d3.scaleLinear().domain(p.xd).range([x0, x0 + W]);
  const ys = d3.scaleLinear().domain(p.yd).range([y0 + H, y0]);
  const g = svg.append("g");
  const cid = "clip" + p.t;
  g.append("clipPath").attr("id", cid).append("rect").attr("x", x0).attr("y", y0).attr("width", W).attr("height", H);
  g.append("g").attr("clip-path", `url(#${cid})`).selectAll("circle").data(p.d).join("circle")
    .attr("cx", d => xs(d[0])).attr("cy", d => ys(d[1])).attr("r", 1.35).attr("fill", "#000");
  const tl = 3;
  const axB = d3.axisBottom(xs).tickValues(p.xt).tickSize(-tl).tickFormat("");
  const axT = d3.axisTop(xs).tickValues(p.xt).tickSize(-tl).tickFormat("");
  const axL = d3.axisLeft(ys).tickValues(p.yt).tickSize(-tl).tickFormat("");
  const axR = d3.axisRight(ys).tickValues(p.yt).tickSize(-tl).tickFormat("");
  [[axB, `translate(0,${y0 + H})`], [axT, `translate(0,${y0})`], [axL, `translate(${x0},0)`], [axR, `translate(${x0 + W},0)`]].forEach(([ax, tr]) => {
    const a = g.append("g").attr("transform", tr).call(ax);
    a.select(".domain").remove();
    a.selectAll("line").attr("stroke", "#000").attr("stroke-width", 0.8);
  });
  g.append("rect").attr("x", x0).attr("y", y0).attr("width", W).attr("height", H)
    .attr("fill", "none").attr("stroke", "#000").attr("stroke-width", 1);
  p.xt.forEach(v => label(g, xs(v), y0 + H + 25, fmt(v), "middle"));
  p.yt.forEach(v => label(g, x0 - 4.5, ys(v) + 6.6, fmt(v), "end"));
  label(g, x0 + W / 2, y0 - 15, titles[p.t], "middle");
});

function supLabel(x, y, main, rot) {
  const g = svg.append("g").attr("transform", `translate(${x},${y})` + (rot ? ` rotate(${rot})` : "") + ` scale(${SX},1)`);
  const t = g.append("text").attr("text-anchor", "middle").attr("font-size", FS);
  t.append("tspan").text(main + " (ms");
  t.append("tspan").attr("font-size", 12.5).attr("dy", -7.5).text("\u22121");
  t.append("tspan").attr("dy", 7.5).text(")");
}
supLabel(colX[0] + W / 2, 1399, "HFDR Magnitude");
supLabel(27, rowY[3] + H / 2 - 4, "NEOWAVE Magnitude", -90);
</script></body></html>
